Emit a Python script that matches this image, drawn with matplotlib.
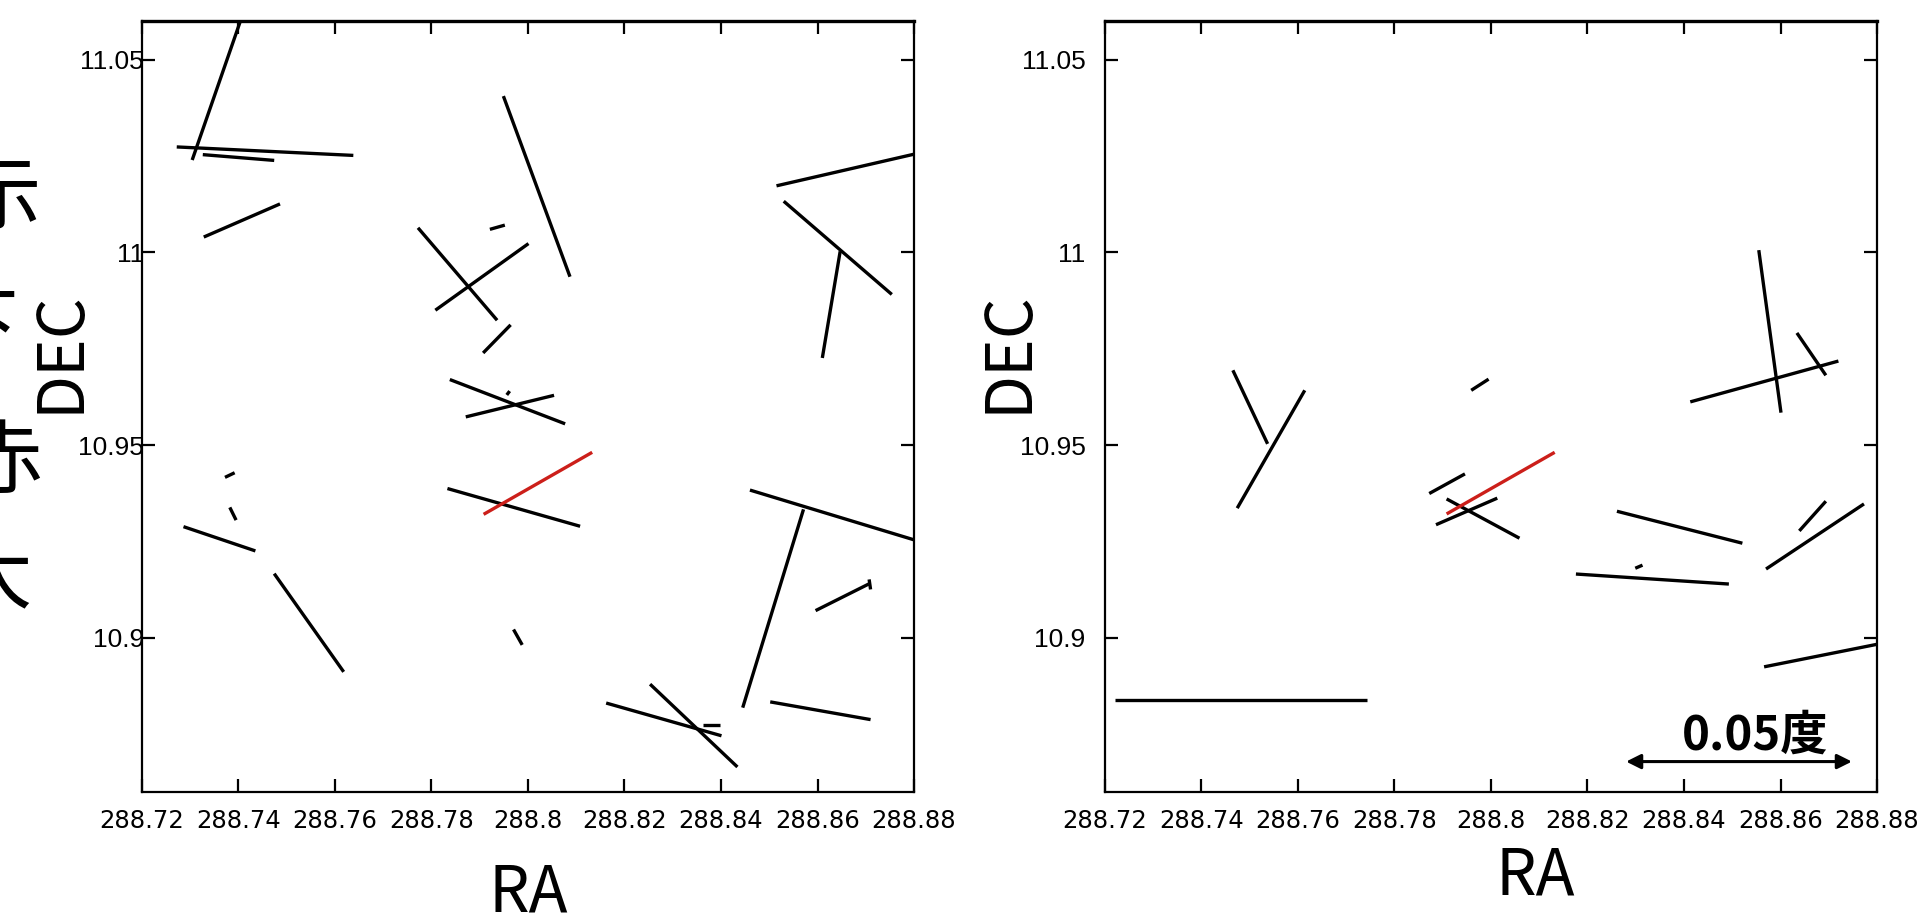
import matplotlib
matplotlib.use("Agg")
import matplotlib.pyplot as plt
from matplotlib import font_manager

# ---------------- data ----------------
xticks = [288.72, 288.74, 288.76, 288.78, 288.80, 288.82, 288.84, 288.86, 288.88]
xtick_labels = ["288.72", "288.74", "288.76", "288.78", "288.8", "288.82", "288.84", "288.86", "288.88"]
yticks = [10.90, 10.95, 11.00, 11.05]
ytick_labels = ["10.9", "10.95", "11", "11.05"]

# left panel segments (RA0, DEC0, RA1, DEC1)
left_x0 = [288.7304, 288.7272, 288.7326, 288.7328, 288.7949, 288.7921, 288.7772, 288.7808,
           288.7907, 288.7838, 288.7871, 288.7956, 288.8515, 288.8530, 288.8647, 288.7372,
           288.7382, 288.7286, 288.7474, 288.7833, 288.7970, 288.8460, 288.8571, 288.8596,
           288.8707, 288.8502, 288.8162, 288.8253, 288.8363]
left_y0 = [11.0240, 11.0274, 11.0254, 11.0040, 11.0406, 11.0060, 11.0064, 10.9850,
           10.9739, 10.9670, 10.9573, 10.9630, 11.0173, 11.0133, 11.0003, 10.9416,
           10.9338, 10.9288, 10.9166, 10.9387, 10.9021, 10.9383, 10.9333, 10.9070,
           10.9151, 10.8833, 10.8830, 10.8879, 10.8774]
left_x1 = [288.7412, 288.7638, 288.7474, 288.7486, 288.8087, 288.7952, 288.7936, 288.8001,
           288.7964, 288.8077, 288.8054, 288.7962, 288.8810, 288.8754, 288.8610, 288.7392,
           288.7395, 288.7435, 288.7618, 288.8108, 288.7988, 288.8810, 288.8445, 288.8706,
           288.8710, 288.8710, 288.8401, 288.8434, 288.8398]
left_y1 = [11.0630, 11.0252, 11.0239, 11.0126, 10.9937, 11.0071, 10.9824, 11.0023,
           10.9812, 10.9555, 10.9629, 10.9640, 11.0258, 10.9891, 10.9726, 10.9428,
           10.9305, 10.9225, 10.8911, 10.9289, 10.8981, 10.9250, 10.8818, 10.9139,
           10.9125, 10.8787, 10.8745, 10.8664, 10.8774]

# right panel segments
right_x0 = [288.8555, 288.8413, 288.8634, 288.7465, 288.7614, 288.7959, 288.7872, 288.7886,
            288.7908, 288.8261, 288.8176, 288.8299, 288.8570, 288.8639, 288.8566, 288.7220]
right_y0 = [11.0006, 10.9612, 10.9791, 10.9694, 10.9642, 10.9642, 10.9374, 10.9293,
            10.9360, 10.9328, 10.9165, 10.9180, 10.9178, 10.9277, 10.8924, 10.8839]
right_x1 = [288.8601, 288.8720, 288.8694, 288.7537, 288.7474, 288.7995, 288.7946, 288.8013,
            288.8059, 288.8521, 288.8493, 288.8314, 288.8773, 288.8694, 288.8810, 288.7742]
right_y1 = [10.9584, 10.9718, 10.9681, 10.9503, 10.9336, 10.9671, 10.9425, 10.9362,
            10.9258, 10.9245, 10.9139, 10.9188, 10.9347, 10.9354, 10.8985, 10.8839]

# highlighted (red) track, same in both panels
red_left = [288.7908, 10.9320, 288.8133, 10.9481]
red_right = [288.7908, 10.9321, 288.8132, 10.9481]

# scale bar
scale_ra = [288.8280, 288.8748]
scale_dec = 10.8678
scale_label = "0.05度"

side_chars = ["示", "下", "赤", "大"]

# ---------------- fonts ----------------
avail = {f.name for f in font_manager.fontManager.ttflist}
cjk = "Noto Sans CJK JP" if "Noto Sans CJK JP" in avail else "DejaVu Sans"
xtickfont = "DejaVu Sans"
ytickfont = "Liberation Sans Narrow" if "Liberation Sans Narrow" in avail else "Liberation Sans"

W, H = 1927, 916
fig = plt.figure(figsize=(W / 100, H / 100), dpi=100)
fig.patch.set_facecolor("white")

axw, axh = 772 / W, 771 / H
bottom = 1 - 792 / H
ax_l = fig.add_axes([142 / W, bottom, axw, axh])
ax_r = fig.add_axes([1105 / W, bottom, axw, axh])


def style(ax, ypad):
    ax.set_xlim(288.72, 288.88)
    ax.set_ylim(10.8599, 11.0601)
    ax.set_xticks(xticks)
    ax.set_xticklabels(xtick_labels, fontsize=17.5, family=xtickfont)
    ax.set_yticks(yticks)
    ax.set_yticklabels(ytick_labels, fontsize=19, family=ytickfont)
    ax.tick_params(axis="both", direction="in", length=9.5, width=1.6,
                   top=True, right=True, colors="black")
    ax.tick_params(axis="x", pad=12)
    ax.tick_params(axis="y", pad=ypad)
    for s in ax.spines.values():
        s.set_linewidth(1.6)
    ax.spines["top"].set_linewidth(2.4)


def draw(ax, x0, y0, x1, y1, red):
    for a, b, c, d in zip(x0, y0, x1, y1):
        ax.plot([a, c], [b, d], color="black", lw=2.4, solid_capstyle="butt")
    ax.plot([red[0], red[2]], [red[1], red[3]], color="#cc1f1a", lw=2.4,
            solid_capstyle="butt")


style(ax_l, -1.5)
style(ax_r, 14)
draw(ax_l, left_x0, left_y0, left_x1, left_y1, red_left)
draw(ax_r, right_x0, right_y0, right_x1, right_y1, red_right)

# axis labels
fig.text(528 / W, 1 - 893 / H, "RA", fontsize=46, family=cjk, ha="center", va="center")
fig.text(1535 / W, 1 - 876 / H, "RA", fontsize=46, family=cjk, ha="center", va="center")
fig.text(60 / W, 1 - 352 / H, "DEC", fontsize=46, family=cjk, rotation=90,
         ha="center", va="center")
fig.text(1008 / W, 1 - 352 / H, "DEC", fontsize=46, family=cjk, rotation=90,
         ha="center", va="center")

# clipped characters at the left edge
for ch, (xx, yy) in zip(side_chars, [(0, 200), (-22, 330), (2, 464), (-8, 578)]):
    fig.text(xx / W, 1 - yy / H, ch, fontsize=58, family=cjk, ha="center", va="center")

# scale bar
ax_r.annotate("", xy=(scale_ra[1], scale_dec), xytext=(scale_ra[0], scale_dec),
              arrowprops=dict(arrowstyle="<|-|>", color="black", lw=2.2,
                              mutation_scale=22, shrinkA=0, shrinkB=0))
ax_r.text(288.8547, scale_dec + 0.0004, scale_label, fontsize=34, family=cjk,
          fontweight="bold", ha="center", va="bottom")

fig.savefig("out.png", dpi=100, facecolor="white")
